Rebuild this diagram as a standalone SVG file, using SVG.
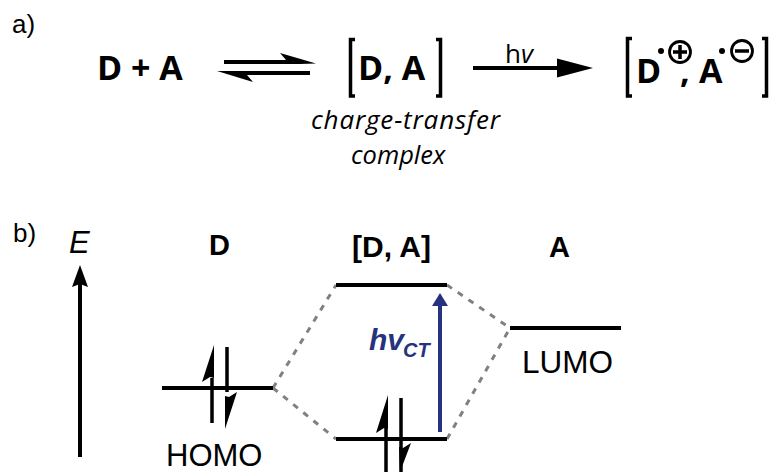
<svg xmlns="http://www.w3.org/2000/svg" width="771" height="472" viewBox="0 0 771 472">
<style>
.s{font-family:"Liberation Sans",Arial,sans-serif;fill:#000}
.o{font-family:"Open Sans","Noto Sans",sans-serif;fill:#000}
.ob{font-weight:700;font-size:34px}
.line{stroke:#000;stroke-width:4;fill:none}
.br{stroke:#000;stroke-width:3.5;fill:none}
.dash{stroke:#808080;stroke-width:3;stroke-dasharray:6 7;fill:none}
.blue{fill:#27327f}
</style>
<rect width="771" height="472" fill="#fff"/>
<g id="label-a"><text class="s" x="12" y="33" font-size="26">a)</text></g>
<g id="label-b"><text class="s" x="13" y="242" font-size="26">b)</text></g>
<g id="reactants"><text class="o ob" x="97" y="80">D + A</text></g>
<g id="complex">
<path class="br" d="M355 39.500H350.500V96H355M436 39.500H440.500V96H436"/>
<text class="o ob" x="358" y="80">D, A</text>
<text class="o" x="311" y="129" font-size="26" font-style="italic" textLength="189">charge-transfer</text>
<text class="o" x="351" y="164" font-size="25.500" font-style="italic">complex</text>
</g>
<g id="products">
<path class="br" d="M632 38.500H627.500V96H632M762 38.500H766.500V96H762"/>
<text class="o ob" x="636" y="83">D</text>
<circle cx="661" cy="51" r="3"/>
<circle cx="680" cy="52" r="10.500" fill="none" stroke="#000" stroke-width="2.800"/>
<path class="br" d="M673 52H687M680 45V59"/>
<text class="o ob" x="680" y="83">,</text>
<text class="o ob" x="699" y="83">A</text>
<circle cx="722" cy="51" r="3"/>
<circle cx="742" cy="51" r="10.500" fill="none" stroke="#000" stroke-width="2.800"/>
<path class="br" d="M735 51H749"/>
</g>
<g id="hv-label"><text class="o" x="505" y="63" font-size="26">h<tspan font-style="italic">v</tspan></text></g>
<g id="e-label"><text class="s" x="69" y="253" font-size="31" font-style="italic">E</text></g>
<g id="d-head"><text class="s" x="209" y="255" font-size="29" font-weight="700">D</text></g>
<g id="da-head"><text class="s" x="352" y="257" font-size="30" font-weight="700">[D, A]</text></g>
<g id="a-head"><text class="s" x="549" y="257" font-size="29" font-weight="700">A</text></g>
<g id="homo-label"><text class="s" x="166" y="466" font-size="31">HOMO</text></g>
<g id="lumo-label"><text class="s" x="522" y="373" font-size="31.500">LUMO</text></g>
<g id="hvct-label">
<text class="s blue" style="fill:#27327f" x="369" y="350" font-size="30" font-weight="700" font-style="italic">hv</text>
<text class="s blue" style="fill:#27327f" x="403" y="357" font-size="20" font-weight="700" font-style="italic">CT</text>
</g>
<g id="connectors">
<path class="line" d="M224 62H300"/>
<polygon points="316,63.500 280,53 286,60 300,64"/>
<path class="line" d="M310 73H232"/>
<polygon points="217,71 253,82 247,75 232,71"/>
<path class="line" d="M473 68H560"/>
<polygon points="593,68 557,58.500 557,77.500"/>
<path class="line" d="M80 457V284"/>
<polygon points="80,265 72,287 80,284 88,287"/>
<path class="dash" d="M273 388L336 285M273 388L336 439M447 285L510 328M447 439L510 328"/>
<path class="line" d="M162 388H273M336 285H447M336 439H447M510 328H621"/>
<path class="br" d="M212 423V378M227 347V392"/>
<polygon points="214,345 202,382 210,377 214,378"/>
<polygon points="225,429 237,392 229,397 225,396"/>
<path class="br" d="M386 472V428M401 398V472"/>
<polygon points="388,395 376,433 384,428 388,429"/>
<polygon points="400,472 411,443 403,448 399,447"/>
<path d="M440 432V303" stroke="#27327f" stroke-width="4" fill="none"/>
<polygon points="440,293 432,306 448,306" fill="#27327f"/>
</g>
</svg>
